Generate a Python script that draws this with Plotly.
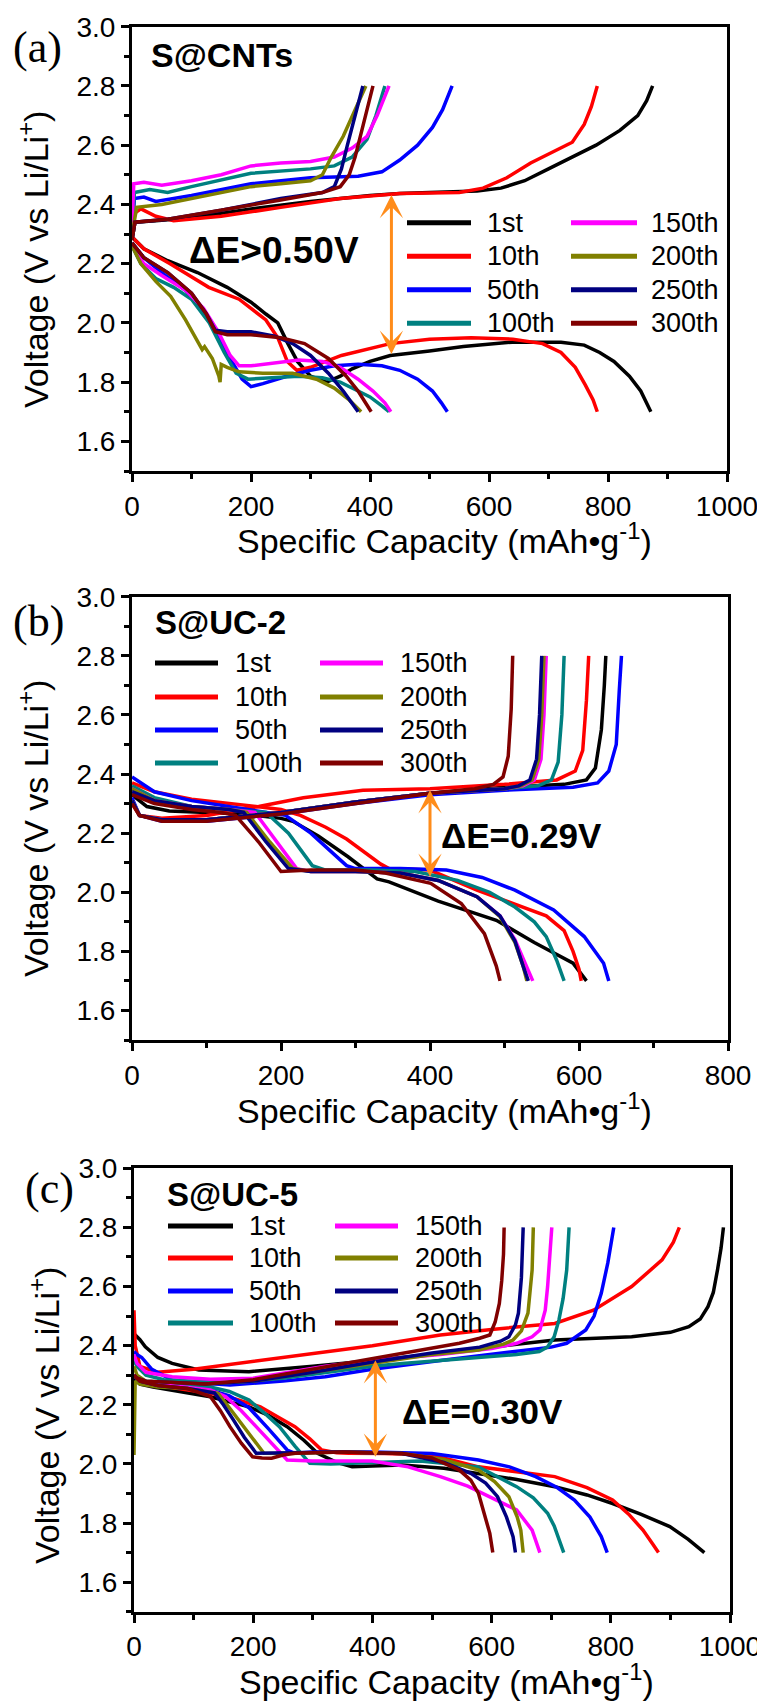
import plotly.graph_objects as go

W, H = 765, 1702
BODY = 8  # default page body margin of the html page
FW, FH = W - BODY, H - BODY
CYCLES = ["1st", "10th", "50th", "100th", "150th", "200th", "250th", "300th"]
COLORS = ["#000000", "#FF0000", "#0000FF", "#008080", "#FF00FF", "#808000", "#000080", "#800000"]
ORANGE = "#FF8C1A"

# ---------------- Panel (a) S@CNTs ----------------
A_DIS_Q = {
    "1st": [0, 20, 60, 110, 160, 200, 225, 245, 262, 278, 300, 327, 350, 370, 400, 434, 500, 557, 639, 721, 760, 786, 810, 836, 855, 872],
    "10th": [0, 20, 64, 129, 180, 205, 225, 245, 261, 277, 300, 352, 434, 500, 570, 640, 690, 721, 745, 762, 775, 782],
    "50th": [0, 20, 50, 90, 120, 145, 165, 185, 200, 220, 260, 300, 340, 380, 420, 450, 480, 505, 520, 530],
    "100th": [0, 15, 40, 70, 100, 130, 155, 175, 195, 230, 280, 320, 350, 380, 400, 420, 432],
    "150th": [0, 20, 50, 90, 120, 145, 165, 180, 200, 240, 280, 320, 350, 380, 405, 425, 435],
    "200th": [0, 15, 40, 65, 90, 110, 118, 122, 135, 146, 148, 150, 160, 180, 220, 270, 310, 340, 365, 385],
    "250th": [0, 20, 60, 100, 125, 140, 160, 200, 240, 270, 300, 330, 355, 370, 380],
    "300th": [0, 20, 60, 100, 125, 140, 160, 200, 250, 290, 330, 360, 380, 395, 402],
}
A_DIS_V = {
    "1st": [2.29, 2.25, 2.21, 2.17, 2.12, 2.07, 2.03, 2.0, 1.93, 1.87, 1.82, 1.80, 1.82, 1.845, 1.87, 1.89, 1.905, 1.92, 1.935, 1.935, 1.925, 1.9, 1.87, 1.82, 1.77, 1.70],
    "10th": [2.29, 2.25, 2.20, 2.12, 2.08, 2.04, 2.01, 1.95, 1.87, 1.84, 1.85, 1.89, 1.93, 1.945, 1.95, 1.945, 1.93, 1.9, 1.85, 1.79, 1.74, 1.70],
    "50th": [2.27, 2.22, 2.17, 2.11, 2.04, 1.96, 1.88, 1.81, 1.785, 1.795, 1.82, 1.84, 1.855, 1.86, 1.855, 1.84, 1.81, 1.77, 1.73, 1.70],
    "100th": [2.26, 2.2, 2.15, 2.12, 2.08, 2.0, 1.9, 1.83, 1.81, 1.815, 1.82, 1.815, 1.8, 1.77, 1.75, 1.72, 1.70],
    "150th": [2.26, 2.2, 2.16, 2.11, 2.05, 1.97, 1.89, 1.855, 1.855, 1.865, 1.875, 1.87, 1.85, 1.81, 1.77, 1.73, 1.70],
    "200th": [2.26, 2.2, 2.14, 2.09, 2.01, 1.94, 1.91, 1.92, 1.88, 1.82, 1.80, 1.86, 1.85, 1.835, 1.83, 1.83, 1.81, 1.78, 1.74, 1.70],
    "250th": [2.27, 2.22, 2.17, 2.1, 2.03, 1.975, 1.97, 1.97, 1.955, 1.93, 1.89, 1.83, 1.77, 1.73, 1.70],
    "300th": [2.27, 2.22, 2.17, 2.1, 2.03, 1.97, 1.96, 1.96, 1.95, 1.93, 1.88, 1.82, 1.77, 1.72, 1.70],
}
A_CHG_Q = {
    "1st": [0, 5, 40, 100, 200, 300, 400, 450, 500, 580, 620, 660, 700, 740, 780, 820, 850, 865, 875],
    "10th": [0, 4, 15, 40, 70, 150, 250, 350, 450, 550, 590, 630, 670, 710, 740, 760, 772, 782],
    "50th": [0, 4, 20, 40, 100, 200, 300, 380, 420, 450, 480, 505, 522, 538],
    "100th": [0, 4, 30, 60, 100, 200, 300, 340, 370, 395, 410, 425],
    "150th": [0, 3, 20, 50, 100, 150, 200, 250, 300, 340, 370, 395, 412, 432],
    "200th": [0, 8, 50, 100, 150, 200, 250, 300, 320, 335, 355, 373, 393],
    "250th": [0, 5, 60, 150, 250, 320, 340, 352, 362, 375, 388],
    "300th": [0, 5, 60, 150, 250, 320, 350, 365, 375, 385, 395, 405],
}
A_CHG_V = {
    "1st": [2.28, 2.34, 2.345, 2.355, 2.385, 2.41, 2.43, 2.437, 2.44, 2.445, 2.455, 2.48, 2.52, 2.56, 2.6, 2.65, 2.7, 2.75, 2.8],
    "10th": [2.28, 2.37, 2.385, 2.36, 2.345, 2.36, 2.39, 2.42, 2.437, 2.44, 2.455, 2.49, 2.54, 2.58, 2.61, 2.67, 2.73, 2.8],
    "50th": [2.3, 2.42, 2.425, 2.41, 2.43, 2.47, 2.49, 2.495, 2.51, 2.55, 2.6, 2.66, 2.72, 2.8],
    "100th": [2.3, 2.44, 2.45, 2.44, 2.46, 2.505, 2.52, 2.53, 2.56, 2.62, 2.7, 2.8],
    "150th": [2.33, 2.47, 2.475, 2.465, 2.48, 2.5, 2.53, 2.54, 2.545, 2.56, 2.59, 2.63, 2.7, 2.8],
    "200th": [2.3, 2.39, 2.4, 2.42, 2.44, 2.46, 2.47, 2.48, 2.5, 2.56, 2.63, 2.71, 2.8],
    "250th": [2.28, 2.34, 2.35, 2.38, 2.42, 2.44, 2.46, 2.52, 2.6, 2.7, 2.8],
    "300th": [2.28, 2.34, 2.35, 2.38, 2.415, 2.44, 2.46, 2.5, 2.56, 2.64, 2.72, 2.8],
}

# ---------------- Panel (b) S@UC-2 ----------------
B_DIS_Q = {
    "1st": [0, 20, 50, 100, 150, 200, 216, 250, 290, 329, 345, 411, 489, 540, 592, 610],
    "10th": [0, 30, 80, 130, 170, 200, 226, 260, 288, 315, 334, 345, 400, 463, 514, 556, 580, 592, 600, 603],
    "50th": [0, 30, 80, 130, 180, 206, 240, 270, 288, 300, 360, 422, 470, 514, 566, 607, 633, 640],
    "100th": [0, 30, 80, 130, 180, 210, 242, 260, 320, 380, 437, 480, 514, 540, 556, 570, 580],
    "150th": [0, 30, 80, 130, 165, 195, 221, 240, 300, 360, 411, 463, 494, 514, 528, 538],
    "200th": [0, 30, 80, 130, 154, 185, 216, 240, 300, 360, 411, 463, 494, 514, 525, 530],
    "250th": [0, 30, 80, 130, 150, 180, 210, 240, 300, 360, 411, 463, 494, 514, 525, 532],
    "300th": [0, 30, 80, 120, 139, 170, 200, 240, 300, 340, 401, 442, 473, 489, 494],
}
B_DIS_V = {
    "1st": [2.33, 2.29, 2.275, 2.27, 2.265, 2.25, 2.24, 2.19, 2.12, 2.045, 2.035, 1.97, 1.905, 1.83, 1.76, 1.70],
    "10th": [2.37, 2.34, 2.315, 2.3, 2.29, 2.28, 2.26, 2.22, 2.18, 2.13, 2.095, 2.08, 2.075, 2.007, 1.96, 1.92, 1.87, 1.80, 1.74, 1.70],
    "50th": [2.39, 2.34, 2.31, 2.29, 2.27, 2.26, 2.2, 2.13, 2.09, 2.08, 2.08, 2.075, 2.05, 2.007, 1.94, 1.85, 1.76, 1.70],
    "100th": [2.36, 2.32, 2.29, 2.28, 2.27, 2.2, 2.09, 2.075, 2.075, 2.07, 2.04, 2.0, 1.95, 1.9, 1.85, 1.77, 1.70],
    "150th": [2.35, 2.31, 2.29, 2.28, 2.27, 2.17, 2.08, 2.07, 2.07, 2.065, 2.04, 1.985, 1.92, 1.84, 1.76, 1.70],
    "200th": [2.35, 2.31, 2.29, 2.28, 2.27, 2.17, 2.08, 2.07, 2.07, 2.065, 2.04, 1.985, 1.917, 1.83, 1.75, 1.70],
    "250th": [2.34, 2.31, 2.29, 2.28, 2.27, 2.17, 2.08, 2.07, 2.07, 2.065, 2.04, 1.985, 1.92, 1.835, 1.75, 1.70],
    "300th": [2.33, 2.3, 2.28, 2.27, 2.26, 2.17, 2.07, 2.075, 2.075, 2.065, 2.03, 1.962, 1.86, 1.75, 1.70],
}
B_CHG_Q = {
    "1st": [0, 10, 40, 100, 200, 300, 400, 500, 580, 610, 622, 630, 634, 636],
    "10th": [0, 10, 40, 100, 170, 230, 310, 400, 500, 570, 595, 605, 610, 613],
    "50th": [0, 10, 40, 100, 200, 300, 400, 500, 592, 625, 640, 650, 654, 657],
    "100th": [0, 10, 40, 100, 200, 300, 400, 500, 545, 563, 572, 577, 580],
    "150th": [0, 10, 40, 100, 200, 300, 400, 500, 525, 540, 549, 553, 556],
    "200th": [0, 10, 40, 100, 200, 300, 400, 500, 522, 537, 546, 550, 553],
    "250th": [0, 10, 40, 100, 200, 300, 400, 500, 519, 534, 543, 547, 550],
    "300th": [0, 10, 40, 100, 200, 300, 400, 460, 485, 498, 505, 509, 511],
}
B_CHG_V = {
    "1st": [2.31, 2.26, 2.245, 2.245, 2.27, 2.305, 2.335, 2.355, 2.365, 2.38, 2.42, 2.55, 2.7, 2.8],
    "10th": [2.3, 2.26, 2.25, 2.26, 2.29, 2.32, 2.345, 2.35, 2.365, 2.38, 2.41, 2.48, 2.65, 2.8],
    "50th": [2.32, 2.26, 2.24, 2.24, 2.265, 2.3, 2.33, 2.345, 2.355, 2.37, 2.41, 2.5, 2.68, 2.8],
    "100th": [2.31, 2.26, 2.245, 2.245, 2.27, 2.305, 2.335, 2.35, 2.36, 2.38, 2.44, 2.6, 2.8],
    "150th": [2.31, 2.26, 2.245, 2.245, 2.27, 2.305, 2.335, 2.35, 2.36, 2.38, 2.45, 2.6, 2.8],
    "200th": [2.31, 2.26, 2.245, 2.245, 2.27, 2.305, 2.335, 2.35, 2.36, 2.38, 2.45, 2.6, 2.8],
    "250th": [2.31, 2.26, 2.245, 2.245, 2.27, 2.305, 2.335, 2.35, 2.36, 2.38, 2.45, 2.6, 2.8],
    "300th": [2.3, 2.26, 2.24, 2.24, 2.265, 2.3, 2.335, 2.35, 2.365, 2.39, 2.46, 2.62, 2.8],
}

# ---------------- Panel (c) S@UC-5 ----------------
C_DIS_Q = {
    "1st": [0, 10, 32, 80, 128, 160, 193, 225, 257, 285, 308, 340, 366, 400, 450, 520, 578, 640, 706, 760, 803, 850, 899, 930, 957],
    "10th": [0, 10, 40, 90, 128, 170, 212, 240, 270, 295, 315, 340, 360, 420, 500, 578, 640, 706, 760, 803, 830, 854, 870, 880],
    "50th": [0, 10, 40, 90, 128, 160, 193, 225, 257, 270, 300, 400, 500, 578, 630, 674, 710, 739, 765, 784, 794],
    "100th": [0, 10, 40, 90, 128, 160, 193, 220, 244, 270, 295, 330, 400, 480, 578, 642, 670, 694, 705, 713, 721],
    "150th": [0, 10, 40, 90, 128, 154, 180, 205, 230, 257, 300, 400, 460, 514, 560, 597, 642, 668, 681],
    "200th": [0, 2, 10, 40, 90, 128, 141, 160, 180, 200, 218, 260, 350, 450, 520, 578, 605, 629, 643, 649, 653],
    "250th": [0, 10, 40, 90, 135, 150, 167, 185, 205, 250, 350, 450, 520, 565, 590, 610, 625, 636, 640],
    "300th": [0, 10, 40, 90, 128, 145, 161, 180, 199, 215, 231, 250, 270, 350, 450, 500, 546, 565, 578, 590, 597, 602],
}
C_DIS_V = {
    "1st": [2.29, 2.27, 2.26, 2.245, 2.227, 2.21, 2.193, 2.165, 2.126, 2.08, 2.036, 2.005, 1.99, 1.993, 1.996, 1.985, 1.968, 1.948, 1.923, 1.895, 1.866, 1.83, 1.788, 1.745, 1.70],
    "10th": [2.3, 2.28, 2.265, 2.25, 2.239, 2.22, 2.193, 2.16, 2.126, 2.085, 2.047, 2.038, 2.036, 2.035, 2.03, 1.99, 1.975, 1.957, 1.92, 1.878, 1.83, 1.776, 1.73, 1.70],
    "50th": [2.3, 2.28, 2.265, 2.255, 2.25, 2.23, 2.19, 2.12, 2.047, 2.036, 2.04, 2.04, 2.035, 2.013, 1.99, 1.957, 1.92, 1.878, 1.82, 1.754, 1.70],
    "100th": [2.3, 2.28, 2.27, 2.265, 2.26, 2.245, 2.216, 2.17, 2.126, 2.06, 2.002, 2.0, 2.005, 2.01, 1.99, 1.923, 1.885, 1.833, 1.79, 1.742, 1.70],
    "150th": [2.3, 2.28, 2.27, 2.26, 2.25, 2.227, 2.18, 2.126, 2.07, 2.013, 2.01, 2.01, 1.99, 1.957, 1.925, 1.889, 1.844, 1.776, 1.70],
    "200th": [2.03, 2.28, 2.27, 2.26, 2.255, 2.245, 2.239, 2.19, 2.137, 2.085, 2.036, 2.035, 2.04, 2.035, 2.015, 1.979, 1.94, 1.889, 1.82, 1.776, 1.70],
    "250th": [2.3, 2.28, 2.265, 2.255, 2.24, 2.2, 2.148, 2.09, 2.036, 2.038, 2.04, 2.035, 2.005, 1.968, 1.935, 1.889, 1.82, 1.754, 1.70],
    "300th": [2.3, 2.28, 2.265, 2.255, 2.228, 2.18, 2.126, 2.07, 2.024, 2.02, 2.019, 2.03, 2.036, 2.04, 2.035, 2.02, 1.979, 1.945, 1.9, 1.82, 1.765, 1.70],
}
C_CHG_Q = {
    "1st": [0, 10, 19, 40, 64, 109, 193, 300, 400, 500, 600, 706, 835, 900, 931, 950, 963, 972, 979, 985, 989],
    "10th": [0, 2, 10, 39, 100, 257, 400, 514, 600, 706, 771, 835, 886, 905, 915],
    "50th": [0, 5, 13, 30, 64, 100, 161, 250, 321, 400, 514, 600, 642, 700, 726, 758, 772, 784, 795, 805],
    "100th": [0, 5, 20, 50, 100, 161, 250, 321, 400, 450, 550, 642, 680, 694, 705, 713, 720, 726, 730],
    "150th": [0, 5, 20, 64, 128, 200, 321, 400, 514, 600, 642, 668, 681, 690, 694, 698, 701],
    "200th": [0, 5, 20, 60, 120, 200, 300, 400, 500, 578, 620, 636, 650, 661, 668, 670],
    "250th": [0, 5, 20, 60, 120, 200, 300, 400, 500, 580, 615, 629, 640, 645, 650, 653],
    "300th": [0, 5, 20, 60, 120, 200, 300, 400, 500, 546, 580, 597, 606, 613, 617, 620, 621],
}
C_CHG_V = {
    "1st": [2.44, 2.42, 2.396, 2.36, 2.34, 2.318, 2.312, 2.33, 2.35, 2.37, 2.395, 2.419, 2.43, 2.445, 2.464, 2.49, 2.532, 2.58, 2.656, 2.73, 2.8],
    "10th": [2.52, 2.4, 2.33, 2.31, 2.32, 2.363, 2.4, 2.436, 2.455, 2.475, 2.52, 2.6, 2.69, 2.75, 2.8],
    "50th": [2.38, 2.37, 2.36, 2.32, 2.284, 2.275, 2.267, 2.28, 2.295, 2.32, 2.35, 2.37, 2.38, 2.395, 2.408, 2.453, 2.5, 2.577, 2.68, 2.8],
    "100th": [2.35, 2.33, 2.3, 2.285, 2.28, 2.275, 2.29, 2.31, 2.33, 2.34, 2.355, 2.37, 2.38, 2.396, 2.43, 2.487, 2.56, 2.656, 2.8],
    "150th": [2.37, 2.34, 2.31, 2.295, 2.286, 2.29, 2.33, 2.35, 2.37, 2.39, 2.408, 2.43, 2.453, 2.52, 2.6, 2.7, 2.8],
    "200th": [2.33, 2.3, 2.28, 2.275, 2.27, 2.28, 2.31, 2.34, 2.37, 2.385, 2.405, 2.419, 2.45, 2.51, 2.656, 2.8],
    "250th": [2.3, 2.29, 2.28, 2.275, 2.27, 2.28, 2.31, 2.345, 2.375, 2.395, 2.415, 2.43, 2.47, 2.51, 2.63, 2.8],
    "300th": [2.3, 2.29, 2.28, 2.275, 2.27, 2.285, 2.32, 2.355, 2.39, 2.408, 2.425, 2.436, 2.48, 2.543, 2.62, 2.71, 2.8],
}

PANEL_NAMES = ["S@CNTs", "S@UC-2", "S@UC-5"]
PANEL_TAGS = ["(a)", "(b)", "(c)"]
DELTA_TEXT = ["ΔE>0.50V", "ΔE=0.29V", "ΔE=0.30V"]
X_MAX = [1000, 800, 1000]
X_TICKS = [[0, 200, 400, 600, 800, 1000], [0, 200, 400, 600, 800], [0, 200, 400, 600, 800, 1000]]
Y_TICKS = [1.6, 1.8, 2.0, 2.2, 2.4, 2.6, 2.8, 3.0]
ARROW_Q = [436, 400, 405]
ARROW_V_TOP = [2.432, 2.346, 2.351]
ARROW_V_BOT = [1.89, 2.047, 2.019]

DATA = [
    (A_DIS_Q, A_DIS_V, A_CHG_Q, A_CHG_V),
    (B_DIS_Q, B_DIS_V, B_CHG_Q, B_CHG_V),
    (C_DIS_Q, C_DIS_V, C_CHG_Q, C_CHG_V),
]

# ---------------- layout geometry (page pixels) ----------------
PLOT_X = [(132, 727), (132, 728), (134, 730)]
PLOT_Y = [(26.7, 471), (596.7, 1040), (1168.3, 1611.7)]
XTITLE_Y = [538, 1108, 1679]
XTITLE_X = [444, 444, 446]
YTITLE_X = [34, 34, 44]
YTITLE_Y = [260, 829, 1416]
TAG_POS = [(37, 47), (38, 621), (49, 1188)]
NAME_POS = [(222, 55), (220, 622), (232, 1194)]
DELTA_POS = [(274, 251), (521, 835), (482, 1411)]
LEG_COLS = [
    [(407, 471, 485), (571, 637, 649)],
    [(155, 218, 233), (320, 383, 398)],
    [(168, 233, 247), (335, 398, 413)],
]
LEG_ROWS = [
    [222.7, 256.2, 289.7, 323.2],
    [663, 697, 730, 763],
    [1226, 1258, 1291, 1323],
]

FONT = "Liberation Sans, Arial, sans-serif"
SERIF = "Liberation Serif, Times New Roman, serif"


def fx(x):
    return (x - BODY) / FW


def fy(y):
    return 1 - (y - BODY) / FH


fig = go.Figure()

for p in range(3):
    dq, dv, cq, cv = DATA[p]
    xa = "x" if p == 0 else f"x{p+1}"
    ya = "y" if p == 0 else f"y{p+1}"
    for name, col in zip(CYCLES, COLORS):
        fig.add_trace(go.Scatter(
            x=dq[name] + [None] + cq[name],
            y=dv[name] + [None] + cv[name],
            mode="lines", name=name, showlegend=False,
            line=dict(color=col, width=3.5),
            xaxis=xa, yaxis=ya,
        ))

layout = dict(
    width=FW, height=FH, autosize=False,
    margin=dict(l=0, r=0, t=0, b=0),
    paper_bgcolor="white", plot_bgcolor="white",
    showlegend=False,
    font=dict(family=FONT, color="black"),
)

annotations = []
shapes = []
for p in range(3):
    sfx = "" if p == 0 else str(p + 1)
    x0, x1 = PLOT_X[p]
    y0, y1 = PLOT_Y[p]
    layout["xaxis" + sfx] = dict(
        domain=[fx(x0), fx(x1)], anchor="y" + sfx, range=[0, X_MAX[p]],
        tickvals=X_TICKS[p], ticks="outside", ticklen=8, tickwidth=3, tickcolor="black",
        showline=True, linewidth=3, linecolor="black", mirror=True,
        showgrid=False, zeroline=False, automargin=False,
        tickfont=dict(size=28, family=FONT, color="black"),
        minor=dict(ticks="outside", ticklen=5, tickwidth=3, tickcolor="black", dtick=100, tick0=0, showgrid=False),
    )
    layout["yaxis" + sfx] = dict(
        domain=[fy(y1), fy(y0)], anchor="x" + sfx, range=[1.5, 3.0],
        tickvals=Y_TICKS, tickformat=".1f", ticks="outside", ticklen=8, tickwidth=3, tickcolor="black",
        showline=True, linewidth=3, linecolor="black", mirror=True,
        showgrid=False, zeroline=False, automargin=False,
        tickfont=dict(size=28, family=FONT, color="black"),
        minor=dict(ticks="outside", ticklen=5, tickwidth=3, tickcolor="black", dtick=0.1, tick0=1.5, showgrid=False),
    )
    annotations.append(dict(
        text="Specific Capacity (mAh•g<sup>-1</sup>)", xref="paper", yref="paper",
        x=fx(XTITLE_X[p]), y=fy(XTITLE_Y[p]), xanchor="center", yanchor="middle",
        showarrow=False, font=dict(size=34, family=FONT, color="black"),
    ))
    annotations.append(dict(
        text="Voltage (V vs Li/Li<sup>+</sup>)", xref="paper", yref="paper",
        x=fx(YTITLE_X[p]), y=fy(YTITLE_Y[p]), xanchor="center", yanchor="middle",
        textangle=-90, showarrow=False, font=dict(size=34, family=FONT, color="black"),
    ))
    annotations.append(dict(
        text=PANEL_TAGS[p], xref="paper", yref="paper",
        x=fx(TAG_POS[p][0]), y=fy(TAG_POS[p][1]), xanchor="center", yanchor="middle",
        showarrow=False, font=dict(size=44, family=SERIF, color="black"),
    ))
    annotations.append(dict(
        text="<b>" + PANEL_NAMES[p] + "</b>", xref="paper", yref="paper",
        x=fx(NAME_POS[p][0]), y=fy(NAME_POS[p][1]), xanchor="center", yanchor="middle",
        showarrow=False, font=dict(size=34 if p == 0 else 33, family=FONT, color="black"),
    ))
    annotations.append(dict(
        text="<b>" + DELTA_TEXT[p] + "</b>", xref="paper", yref="paper",
        x=fx(DELTA_POS[p][0]), y=fy(DELTA_POS[p][1]), xanchor="center", yanchor="middle",
        showarrow=False, font=dict(size=37 if p == 0 else 35, family=FONT, color="black"),
    ))
    annotations.append(dict(
        text="", xref="x" + sfx, yref="y" + sfx, axref="x" + sfx, ayref="y" + sfx,
        x=ARROW_Q[p], y=ARROW_V_TOP[p], ax=ARROW_Q[p], ay=ARROW_V_BOT[p],
        showarrow=True, arrowside="end+start", arrowhead=3, startarrowhead=3,
        arrowsize=1.3, startarrowsize=1.3, arrowwidth=3, arrowcolor=ORANGE,
        standoff=0, startstandoff=0,
    ))
    for i, (name, col) in enumerate(zip(CYCLES, COLORS)):
        c = i // 4
        r = i % 4
        lx0, lx1, tx = LEG_COLS[p][c]
        ly = LEG_ROWS[p][r]
        shapes.append(dict(
            type="line", xref="paper", yref="paper",
            x0=fx(lx0), x1=fx(lx1), y0=fy(ly), y1=fy(ly),
            line=dict(color=col, width=5),
        ))
        annotations.append(dict(
            text=name, xref="paper", yref="paper",
            x=fx(tx), y=fy(ly), xanchor="left", yanchor="middle",
            showarrow=False, font=dict(size=27, family=FONT, color="black"),
        ))

layout["annotations"] = annotations
layout["shapes"] = shapes
fig.update_layout(**layout)
fig.write_html(
    "out.html",
    post_script="document.documentElement.style.overflow='hidden';document.body.style.overflow='hidden';",
)
